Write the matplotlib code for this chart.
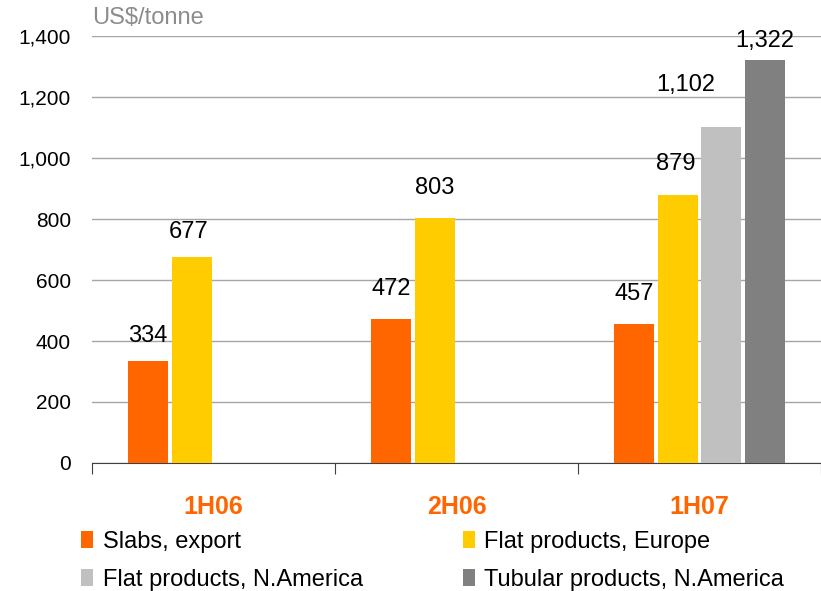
import matplotlib
matplotlib.use('Agg')
import matplotlib.pyplot as plt
import numpy as np
from matplotlib.patches import Patch

plt.rcParams['font.family'] = ['Liberation Sans', 'DejaVu Sans']

periods = ['1H06', '2H06', '1H07']
series = ['Slabs, export', 'Flat products, Europe',
          'Flat products, N.America', 'Tubular products, N.America']
colors = ['#FF6600', '#FFCC00', '#C0C0C0', '#808080']

slabs = [334, 472, 457]
flat_europe = [677, 803, 879]
flat_namerica = [np.nan, np.nan, 1102]
tubular_namerica = [np.nan, np.nan, 1322]
values = [slabs, flat_europe, flat_namerica, tubular_namerica]

# label offsets (points) from each bar's top centre to the label centre
label_dx = [[0, 0, 0], [-2, 0, -1.5], [-26, -26, -26], [0, 0, 0]]
label_dy = [[18, 21.6, 21], [18, 21.6, 22.3], [30, 30, 30], [13.7, 13.7, 13.7]]

fig = plt.figure(figsize=(8.21, 5.91), dpi=100)
ax = fig.add_axes([0.112, 0.2166, 0.888, 0.7224])

x = np.arange(len(periods))
width = 0.165
step = 0.18
for i, (name, vals, c) in enumerate(zip(series, values, colors)):
    pos = x - 0.27 + i * step
    ax.bar(pos, vals, width=width, color=c, zorder=3)
    for j, v in enumerate(vals):
        if np.isnan(v):
            continue
        ax.annotate(f'{v:,.0f}', (pos[j], v), xytext=(label_dx[i][j], label_dy[i][j]),
                    textcoords='offset points', ha='center', va='center',
                    fontsize=17, color='black')

ax.set_xlim(-0.5, 2.5)
ax.set_ylim(0, 1400)
ax.set_yticks(range(0, 1401, 200))
ax.set_yticklabels([f'{t:,}' for t in range(0, 1401, 200)], fontsize=15)
ax.tick_params(axis='y', length=0, pad=15)
ax.yaxis.grid(True, color='#A6A6A6', linewidth=1, zorder=0)

ax.set_xticks([-0.5, 0.5, 1.5, 2.5])
ax.set_xticklabels([])
ax.set_xticks(x, minor=True)
ax.set_xticklabels(periods, minor=True, fontsize=18, fontweight='bold', color='#FF6600')
ax.tick_params(axis='x', which='major', length=8, direction='out', color='#404040')
ax.tick_params(axis='x', which='minor', length=0, pad=23)

for s in ['top', 'right', 'left']:
    ax.spines[s].set_visible(False)
ax.spines['bottom'].set_color('#404040')

fig.text(0.112, 0.9695, 'US$/tonne', fontsize=17, color='#8C8C8C', va='center')

# ncol legends fill column-wise, so interleave to get the row order
order = [0, 2, 1, 3]
handles = [Patch(facecolor=colors[k], edgecolor='none') for k in order]
labels = [series[k] for k in order]
fig.legend(handles, labels, loc='lower left', bbox_to_anchor=(0.082, -0.024),
           ncol=2, frameon=False, fontsize=17, handlelength=0.5, handleheight=0.7,
           handletextpad=0.4, columnspacing=4.25, labelspacing=0.68, borderaxespad=0.2)

fig.savefig('out.png', dpi=100)
